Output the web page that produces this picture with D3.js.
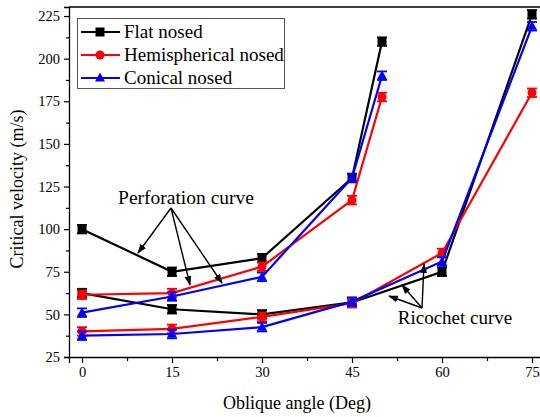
<!DOCTYPE html>
<html><head><meta charset="utf-8">
<script src="https://cdn.jsdelivr.net/npm/d3@7"></script>
<style>body{margin:0;background:#fff}svg{display:block}svg text{font-family:"Liberation Serif","Times New Roman",serif !important}</style>
</head><body>
<svg id="c" width="540" height="417"></svg>
<script>
const seriesNames = ["Flat nosed","Hemispherical nosed","Conical nosed"];
const colors = ["#000000","#ff0000","#0000ff"];
const perfAngles = [0,15,30,45,50];
const ricoAngles = [0,15,30,45,60,75];
const flatPerf = [100,75,83,130,210];
const hemiPerf = [61.5,62.5,78,117,177.5];
const conePerf = [51,60.5,72,130,190];
const flatRico = [62.5,53,50,57,75,226];
const hemiRico = [40,41.5,48.5,56.5,86,180];
const coneRico = [37.5,38.5,42.5,57.5,81,219];
const errs = [2.5,2.5,2.5];
const xTicks = [0,15,30,45,60,75];
const yTicks = [25,50,75,100,125,150,175,200,225];

const svg = d3.select("#c");
const x = d3.scaleLinear().domain([-2.17,76.5]).range([69,541]);
const y = d3.scaleLinear().domain([25,230.3]).range([357,7]);

svg.append("line").attr("x1",69).attr("x2",541).attr("y1",y(230.3)).attr("y2",y(230.3)).attr("stroke","#000").attr("stroke-width",1.3);

const xAxis = svg.append("g").attr("transform","translate(0,357)")
  .call(d3.axisBottom(x).tickValues(xTicks).tickSize(6).tickPadding(4).tickFormat(d3.format("d")));
const xMinor = svg.append("g").attr("transform","translate(0,357)")
  .call(d3.axisBottom(x).tickValues([7.5,22.5,37.5,52.5,67.5]).tickSize(4).tickFormat(""));
const yAxis = svg.append("g").attr("transform","translate(69,0)")
  .call(d3.axisLeft(y).tickValues(yTicks).tickSize(5).tickPadding(4).tickFormat(d3.format("d")));
const yMinor = svg.append("g").attr("transform","translate(69,0)")
  .call(d3.axisLeft(y).tickValues([37.5,62.5,87.5,112.5,137.5,162.5,187.5,212.5]).tickSize(3).tickFormat(""));
[xAxis,xMinor,yAxis,yMinor].forEach(g=>{
  g.attr("font-family","Liberation Serif");
  g.select(".domain").attr("stroke-width",1.3);
  g.selectAll(".tick line").attr("stroke-width",1.2);
  g.selectAll("text").attr("font-size",14.5).style("font-family","Liberation Serif").attr("fill","#000");
});
xMinor.select(".domain").remove(); yMinor.select(".domain").remove();

svg.append("text").attr("x",297).attr("y",409).attr("text-anchor","middle").attr("font-size",18).text("Oblique angle (Deg)");
svg.append("text").attr("transform","translate(23,189) rotate(-90)").attr("text-anchor","middle").attr("font-size",18).text("Critical velocity (m/s)");

const perf = [flatPerf,hemiPerf,conePerf];
const rico = [flatRico,hemiRico,coneRico];
const line = d3.line().x(d=>x(d[0])).y(d=>y(d[1]));

function marker(g, i, cx, cy, s){
  if(i===0) g.append("rect").attr("x",cx-s).attr("y",cy-s).attr("width",2*s).attr("height",2*s).attr("fill",colors[i]);
  else if(i===1) g.append("circle").attr("cx",cx).attr("cy",cy).attr("r",s).attr("fill",colors[i]);
  else g.append("path").attr("d",`M${cx},${cy-s*1.2}L${cx+s*1.1},${cy+s*0.8}L${cx-s*1.1},${cy+s*0.8}Z`).attr("fill",colors[i]);
}

[0,1,2].forEach(i=>{
  [[perfAngles,perf[i]],[ricoAngles,rico[i]]].forEach(([ang,vals])=>{
    const pts = ang.map((a,k)=>[a,vals[k]]);
    const g = svg.append("g");
    g.append("path").attr("d",line(pts)).attr("fill","none").attr("stroke",colors[i]).attr("stroke-width",2.2);
    pts.forEach(p=>{
      const cx=x(p[0]), e=errs[i];
      const y1=y(p[1]+e), y2=y(p[1]-e);
      g.append("line").attr("x1",cx).attr("x2",cx).attr("y1",y1).attr("y2",y2).attr("stroke",colors[i]).attr("stroke-width",1.5);
      [y1,y2].forEach(yy=>g.append("line").attr("x1",cx-5).attr("x2",cx+5).attr("y1",yy).attr("y2",yy).attr("stroke",colors[i]).attr("stroke-width",1.8));
      marker(g,i,cx,y(p[1]),4.5);
    });
  });
});

const defs = svg.append("defs");
defs.append("marker").attr("id","ah").attr("viewBox","0 0 10 10").attr("refX",9).attr("refY",5)
  .attr("markerWidth",7).attr("markerHeight",7).attr("orient","auto")
  .append("path").attr("d","M0,1.5L10,5L0,8.5Z").attr("fill","#000");

svg.append("text").attr("x",186).attr("y",204).attr("text-anchor","middle").attr("font-size",19.5).text("Perforation curve");
[[138,253],[190,285],[222,283]].forEach(t=>{
  svg.append("line").attr("x1",171).attr("y1",208).attr("x2",t[0]).attr("y2",t[1]).attr("stroke","#000").attr("stroke-width",1.4).attr("marker-end","url(#ah)");
});
svg.append("text").attr("x",455).attr("y",324).attr("text-anchor","middle").attr("font-size",19).text("Ricochet curve");
[[389,296],[402,285],[424,264]].forEach(t=>{
  svg.append("line").attr("x1",422).attr("y1",308).attr("x2",t[0]).attr("y2",t[1]).attr("stroke","#000").attr("stroke-width",1.4).attr("marker-end","url(#ah)");
});

const lg = svg.append("g");
lg.append("rect").attr("x",77.5).attr("y",18.5).attr("width",207).attr("height",70).attr("fill","#fff").attr("stroke","#555").attr("stroke-width",1);
seriesNames.forEach((n,i)=>{
  const yy = 32 + i*23;
  lg.append("line").attr("x1",81).attr("x2",120).attr("y1",yy).attr("y2",yy).attr("stroke",colors[i]).attr("stroke-width",2.2);
  marker(lg,i,100,yy,4.5);
  lg.append("text").attr("x",124).attr("y",yy+6).attr("font-size",19).text(n);
});
</script>
</body></html>
